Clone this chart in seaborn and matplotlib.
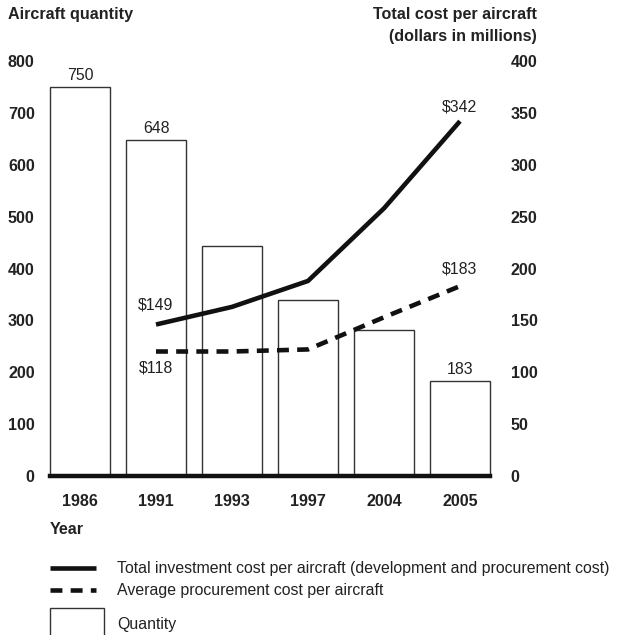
import matplotlib
matplotlib.use("Agg")
import matplotlib.pyplot as plt
import seaborn as sns
import pandas as pd
from matplotlib.lines import Line2D
from matplotlib.patches import Rectangle

years = ["1986", "1991", "1993", "1997", "2004", "2005"]
quantity = [750, 648, 444, 340, 281, 183]
cost_years = ["1991", "1993", "1997", "2004", "2005"]
total_cost = [146, 163, 188, 258, 342]
procurement_cost = [120, 120, 122, 153, 183]
total_labels = ["$149", "$342"]
procurement_labels = ["$118", "$183"]
left_ticks = [0, 100, 200, 300, 400, 500, 600, 700, 800]
right_ticks = [0, 50, 100, 150, 200, 250, 300, 350, 400]

sns.set_theme(style="white")
plt.rcParams["font.family"] = ["Liberation Sans", "DejaVu Sans"]

FB = 11.6   # bold text size
FR = 11.4   # regular text size
TXT = "#222222"

fig = plt.figure(figsize=(6.18, 6.35), dpi=100)
ax = fig.add_axes([50 / 618, 1 - 476 / 635, 440 / 618, 415 / 635])

df_bar = pd.DataFrame({"year": years, "quantity": quantity})
sns.barplot(data=df_bar, x="year", y="quantity", order=years, ax=ax,
            color="white", edgecolor="#333333", linewidth=1.0, width=0.79,
            saturation=1)
for p in ax.patches:
    p.set_clip_on(False)
ax.set_xlim(-0.395, 5.395)
ax.set_ylim(0, 800)
ax.set_yticks(left_ticks)
ax.set_yticklabels([str(t) for t in left_ticks], fontsize=FB, fontweight="bold")
ax.set_xticks(range(len(years)))
ax.set_xticklabels(years, fontsize=FB, fontweight="bold")
ax.tick_params(axis="y", length=0, pad=11, colors=TXT)
ax.tick_params(axis="x", length=0, pad=13, colors=TXT)
ax.set_xlabel("")
ax.set_ylabel("")
for s in ["left", "right", "top"]:
    ax.spines[s].set_visible(False)
ax.spines["bottom"].set_linewidth(3.2)
ax.spines["bottom"].set_color("#111111")
ax.spines["bottom"].set_zorder(5)

bar_labels = ["750", "648", "", "", "", "183"]
ax.bar_label(ax.containers[0], labels=bar_labels, padding=3, fontsize=FR,
             color=TXT)

ax2 = ax.twinx()
pos = [years.index(y) for y in cost_years]
df_line = pd.DataFrame({"pos": pos, "total": total_cost, "proc": procurement_cost})
sns.lineplot(data=df_line, x="pos", y="total", ax=ax2, color="#111111",
             linewidth=3.3, solid_capstyle="butt")
sns.lineplot(data=df_line, x="pos", y="proc", ax=ax2, color="#111111",
             linewidth=3.3, dashes=False)
ax2.lines[1].set_dashes([2.6, 1.8])
ax2.lines[1].set_dash_capstyle("butt")
ax2.set_ylim(0, 400)
ax2.set_xlim(-0.395, 5.395)
ax2.set_yticks(right_ticks)
ax2.set_yticklabels([str(t) for t in right_ticks], fontsize=FB, fontweight="bold")
ax2.tick_params(axis="y", length=0, pad=15, colors=TXT)
ax2.set_xlabel("")
ax2.set_ylabel("")
for s in ["left", "right", "top", "bottom"]:
    ax2.spines[s].set_visible(False)
ax2.grid(False)
ax.grid(False)

ann = dict(fontsize=FR, color=TXT, ha="center", va="center",
           textcoords="offset points")
ax2.annotate(total_labels[0], (pos[0], total_cost[0]), xytext=(0, 14), **ann)
ax2.annotate(procurement_labels[0], (pos[0], procurement_cost[0]), xytext=(0, -12), **ann)
ax2.annotate(total_labels[1], (pos[-1], total_cost[-1]), xytext=(0, 10), **ann)
ax2.annotate(procurement_labels[1], (pos[-1], procurement_cost[-1]), xytext=(0, 12), **ann)

fig.text(8 / 618, 1 - 15 / 635, "Aircraft quantity", fontsize=FB,
         fontweight="bold", ha="left", va="center", color=TXT)
fig.text(537 / 618, 1 - 15 / 635, "Total cost per aircraft", fontsize=FB,
         fontweight="bold", ha="right", va="center", color=TXT)
fig.text(537 / 618, 1 - 37 / 635, "(dollars in millions)", fontsize=FB,
         fontweight="bold", ha="right", va="center", color=TXT)
fig.text(50 / 618, 1 - 529 / 635, "Year", fontsize=FB,
         fontweight="bold", ha="left", va="center", color=TXT)

# legend
def fy(p):
    return 1 - p / 635

fig.add_artist(Line2D([50 / 618, 96 / 618], [fy(568), fy(568)], color="#111111",
                      linewidth=3.3, solid_capstyle="butt"))
fig.add_artist(Line2D([50 / 618, 96 / 618], [fy(590), fy(590)], color="#111111",
                      linewidth=3.3, dashes=[2.6, 1.8], dash_capstyle="butt"))
fig.add_artist(Rectangle((50 / 618, fy(640)), 54 / 618, 32 / 635,
                         transform=fig.transFigure, facecolor="white",
                         edgecolor="#333333", linewidth=1.0, clip_on=False))
fig.text(117 / 618, fy(568), "Total investment cost per aircraft (development and procurement cost)",
         fontsize=FR, ha="left", va="center", color=TXT)
fig.text(117 / 618, fy(590), "Average procurement cost per aircraft",
         fontsize=FR, ha="left", va="center", color=TXT)
fig.text(117 / 618, fy(624), "Quantity",
         fontsize=FR, ha="left", va="center", color=TXT)

fig.savefig("out.png", dpi=100)
